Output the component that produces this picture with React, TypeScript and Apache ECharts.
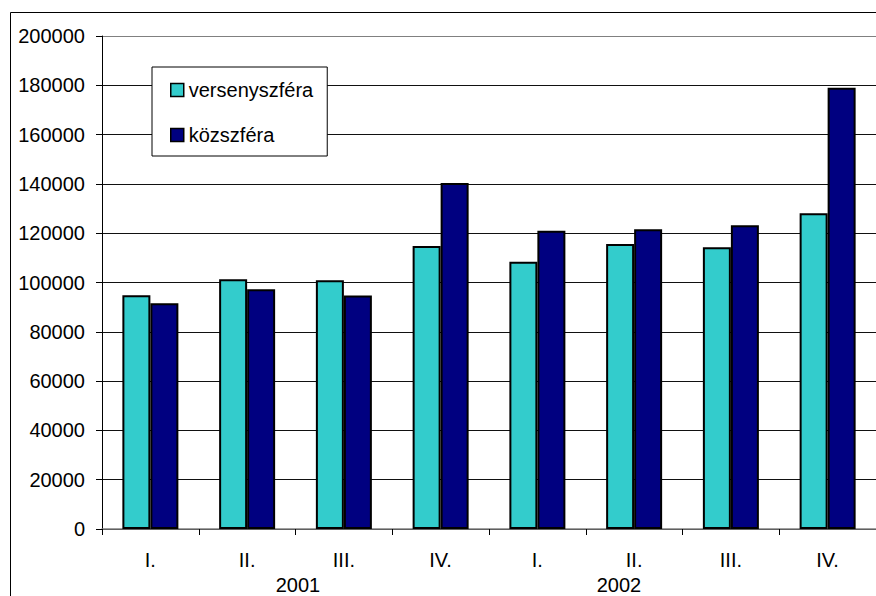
import React, { useEffect, useRef } from "react";
import * as echarts from "echarts";

const quarters = ["I.", "II.", "III.", "IV.", "I.", "II.", "III.", "IV."];
const years = ["2001", "2002"];
const versenyszfera = [94800, 101300, 100900, 114800, 108400, 115600, 114300, 128100];
const kozszfera = [91600, 97300, 94700, 140400, 121000, 121600, 123200, 179000];
const seriesNames = ["versenyszféra", "közszféra"];

const FONT = "'Liberation Sans', Arial, sans-serif";

export default function App() {
  const ref = useRef<HTMLDivElement>(null);
  useEffect(() => {
    if (!ref.current) return;
    const chart = echarts.init(ref.current, null, { renderer: "svg" });
    chart.setOption({
      animation: false,
      backgroundColor: "#fff",
      textStyle: { fontFamily: FONT },
      grid: { left: 102, top: 36, right: -10, bottom: 67, containLabel: false },
      legend: {
        orient: "vertical",
        left: 152,
        top: 67,
        padding: [13, 14, 11, 18],
        itemGap: 25,
        itemWidth: 13,
        itemHeight: 13,
        itemStyle: { borderColor: "#000", borderWidth: 1.5 },
        backgroundColor: "#fff",
        borderColor: "#000",
        borderWidth: 1,
        textStyle: { fontSize: 20, color: "#000", fontFamily: FONT, lineHeight: 20, padding: [0, 0, 0, 0] },
        itemTextGap: 5,
        data: seriesNames.map((n) => ({ name: n, icon: "rect" })),
      },
      xAxis: {
        type: "category",
        data: quarters,
        axisLine: { lineStyle: { color: "#808080", width: 1.5 } },
        axisTick: { show: true, length: 6, lineStyle: { color: "#000" } },
        axisLabel: { fontSize: 20, color: "#000", margin: 21, fontFamily: FONT, interval: 0 },
        splitLine: { show: false },
      },
      yAxis: {
        type: "value",
        min: 0,
        max: 200000,
        interval: 20000,
        axisLine: { show: true, lineStyle: { color: "#000", width: 1 } },
        axisTick: { show: true, length: 6, lineStyle: { color: "#000" } },
        axisLabel: {
          fontSize: 20,
          color: "#000",
          margin: 17,
          fontFamily: FONT,
          formatter: (v: number) => String(v),
        },
        splitLine: {
          show: true,
          lineStyle: {
            color: ["#000", "#111", "#111", "#111", "#111", "#111", "#111", "#111", "#111", "#111", "#808080"],
            width: 1,
          },
        },
      },
      series: [
        {
          name: seriesNames[0],
          type: "bar",
          data: versenyszfera,
          barWidth: 28,
          barGap: "0%",
          itemStyle: { color: "#33CCCC", borderColor: "#000", borderWidth: 2 },
        },
        {
          name: seriesNames[1],
          type: "bar",
          data: kozszfera,
          barWidth: 28,
          barGap: "0%",
          itemStyle: { color: "#000080", borderColor: "#000", borderWidth: 2 },
        },
      ],
      graphic: [
        {
          type: "rect",
          shape: { x: 10.5, y: 12.5, width: 1000, height: 1000 },
          style: { fill: "none", stroke: "#000", lineWidth: 1 },
          silent: true,
          z: 100,
        },
        {
          type: "text",
          x: 298,
          y: 595,
          style: { text: years[0], fontSize: 20, fill: "#000", fontFamily: FONT, align: "center", verticalAlign: "bottom" },
        },
        {
          type: "text",
          x: 619,
          y: 595,
          style: { text: years[1], fontSize: 20, fill: "#000", fontFamily: FONT, align: "center", verticalAlign: "bottom" },
        },
      ],
    });
    return () => chart.dispose();
  }, []);
  return (
    <div
      ref={ref}
      style={{ position: "fixed", left: 0, top: 0, width: 876, height: 596, overflow: "hidden" }}
    />
  );
}
